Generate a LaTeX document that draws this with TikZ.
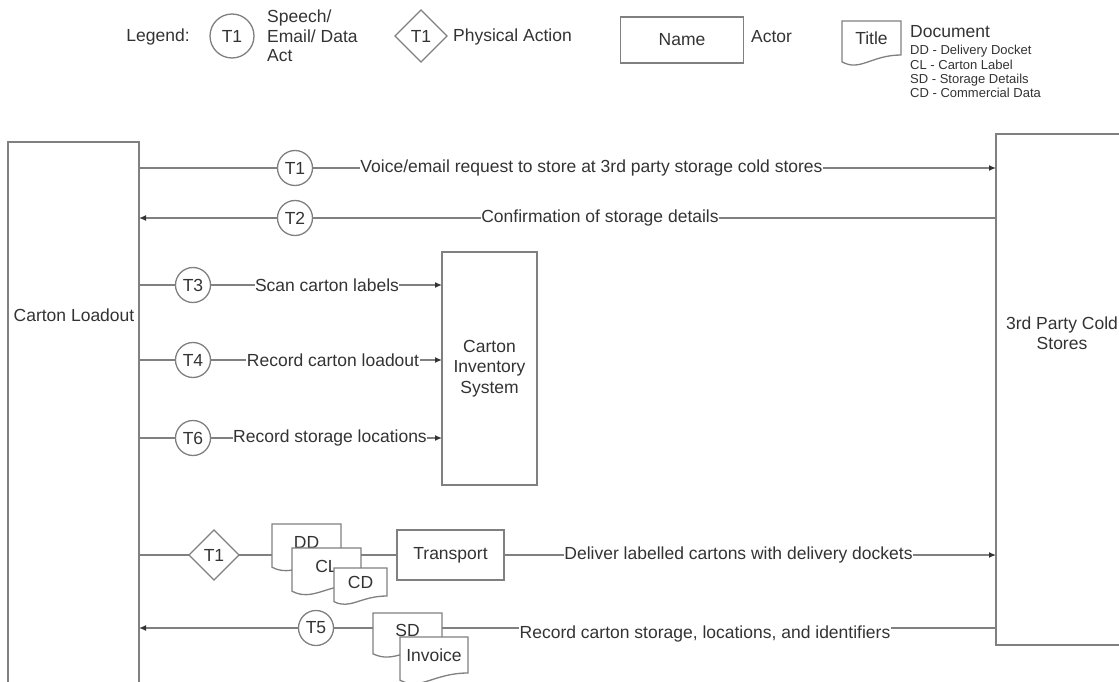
\documentclass[tikz,border=0pt]{standalone}
\usepackage{fontspec}
\setmainfont{Liberation Sans}
\usetikzlibrary{shapes.geometric, arrows.meta}
\definecolor{linegray}{HTML}{808080}
\definecolor{inkgray}{HTML}{333333}
\newcommand{\bodysize}{\fontsize{17.5}{20.5}\selectfont}
% document symbol: flat top, wavy bottom; #1 name, #2 centre of the flat part, #3 width, #4 height, #5 text
\newcommand{\docnode}[5]{%
  \node[docbox, minimum width=#3pt, minimum height=#4pt] (#1) at (#2) {};
  \pgfmathsetmacro{\docdrop}{0.2*#4}%
  \pgfmathsetmacro{\docdip}{0.5*#4}%
  \pgfmathsetmacro{\docin}{0.3*#3}%
  \pgfmathsetmacro{\docback}{0.5*#3}%
  \filldraw[docline] (#1.south east) -- (#1.north east) -- (#1.north west) -- ([yshift=-\docdrop pt]#1.south west)
    .. controls ([xshift=\docin pt, yshift=-\docdip pt]#1.south west) and ([xshift=-\docback pt]#1.south east) .. (#1.south east) -- cycle;
  \node[doctext] at (#1.center) {#5};
}
\begin{document}
\begin{tikzpicture}[x=1pt, y=-1pt, >={Latex[length=7pt,width=6pt,color=inkgray]},
  every node/.style={font=\bodysize, text=inkgray},
  flow/.style={draw=linegray, line width=1.3pt},
  actor/.style={rectangle, draw=linegray, line width=1.3pt, fill=white, inner sep=2pt, outer sep=0pt, align=center},
  act/.style={circle, draw=linegray, line width=1.3pt, fill=white, minimum size=35pt, inner sep=0pt, outer sep=0pt},
  physical/.style={diamond, draw=linegray, line width=1.3pt, fill=white, minimum width=50pt, minimum height=50pt, inner sep=0pt, outer sep=0pt},
  lbl/.style={inner sep=0.5pt, outer sep=0pt},
  docbox/.style={rectangle, inner sep=0pt, outer sep=0pt},
  docline/.style={draw=linegray, line width=1.3pt, fill=white},
  doctext/.style={inner sep=0pt}]
  \useasboundingbox (0,0) rectangle (1119,682);
  \clip (0,0) rectangle (1119,682);
  % legend row
  \node (legend) at (158,37) {Legend:};
  \node[act, minimum size=44pt] (legact) at (232,36) {T1};
  \node[anchor=west, align=left, inner sep=0pt, font=\fontsize{17.5}{19.5}\selectfont] (legacttext) at (267,36) {Speech/\\Email/ Data\\Act};
  \node[physical, minimum width=52pt, minimum height=52pt] (legphys) at (421,36) {T1};
  \node[anchor=west, inner sep=0pt] (legphystext) at (453,37) {Physical Action};
  \node[actor, minimum width=123pt, minimum height=46pt] (legactor) at (682,40) {Name};
  \node[anchor=west, inner sep=0pt] (legactortext) at (751,37) {Actor};
  \docnode{legdoc}{871.5,38}{59}{34}{Title}
  \node[anchor=west, inner sep=0pt] (legdoctext) at (910,32) {Document};
  \node[anchor=north west, align=left, inner sep=0pt, font=\fontsize{13}{14.4}\selectfont] (legdoccodes) at (910,45) {DD - Delivery Docket\\CL - Carton Label\\SD - Storage Details\\CD - Commercial Data};
  % the three actors
  \node[actor, minimum width=131pt, minimum height=578pt] (loadout) at (73.5,431) {};
  \node (loadoutlabel) at (74,315) {Carton Loadout};
  \node[actor, minimum width=134pt, minimum height=511pt] (cold) at (1063,389.5) {};
  \node[align=center] (coldlabel) at (1062,333) {3rd Party Cold\\Stores};
  \node[actor, minimum width=95pt, minimum height=233pt] (cis) at (489.5,368.5) {Carton\\Inventory\\System};
  % T1 and T2: loadout <-> cold stores
  \node[act] (t1) at (295,168) {T1};
  \node[lbl] (t1text) at (591.5,168) {Voice/email request to store at 3rd party storage cold stores};
  \draw[flow, ->] (loadout.east |- t1) -- (t1) -- (t1text) -- (cold.west |- t1text);
  \node[act] (t2) at (295,218) {T2};
  \node[lbl] (t2text) at (600,218) {Confirmation of storage details};
  \draw[flow, ->] (cold.west |- t2text) -- (t2text) -- (t2) -- (loadout.east |- t2);
  % T3, T4, T6: loadout -> inventory system
  \foreach \id/\y/\tx/\txt in {3/285/327/Scan carton labels, 4/360/333/Record carton loadout, 6/438/330/Record storage locations}{
    \node[act] (t\id) at (193,\y) {T\id};
    \node[lbl] (t\id text) at (\tx,\y) {\txt};
    \draw[flow, ->] (loadout.east |- t\id) -- (t\id) -- (t\id text) -- (cis.west |- t\id text);
  }
  % physical delivery of the cartons
  \node[physical] (phys) at (214,555) {T1};
  \docnode{dd}{306.5,542}{69}{36}{DD}
  \docnode{cl}{326.5,566}{69}{36}{CL}
  \docnode{cd}{360.5,582}{53}{28}{CD}
  \node[actor, minimum width=107pt, minimum height=50pt] (transport) at (450.5,555) {Transport};
  \node[lbl] (deltext) at (738.5,555) {Deliver labelled cartons with delivery dockets};
  \draw[flow] (loadout.east |- phys) -- (phys) -- (dd.west |- phys);
  \draw[flow, ->] (cl.east |- transport) -- (transport) -- (deltext) -- (cold.west |- deltext);
  % T5: storage details back to the loadout
  \node[act] (t5) at (316,628) {T5};
  \docnode{sd}{407.5,630}{69}{34}{SD}
  \docnode{invoice}{434,655}{68}{36}{Invoice}
  \node[lbl] (t5text) at (705,634) {Record carton storage, locations, and identifiers};
  \draw[flow] (cold.west |- t5) -- (t5text.east |- t5);
  \draw[flow] (t5text.west |- t5) -- (sd.east |- t5);
  \draw[flow, ->] (sd.west |- t5) -- (t5) -- (loadout.east |- t5);
\end{tikzpicture}
\end{document}
